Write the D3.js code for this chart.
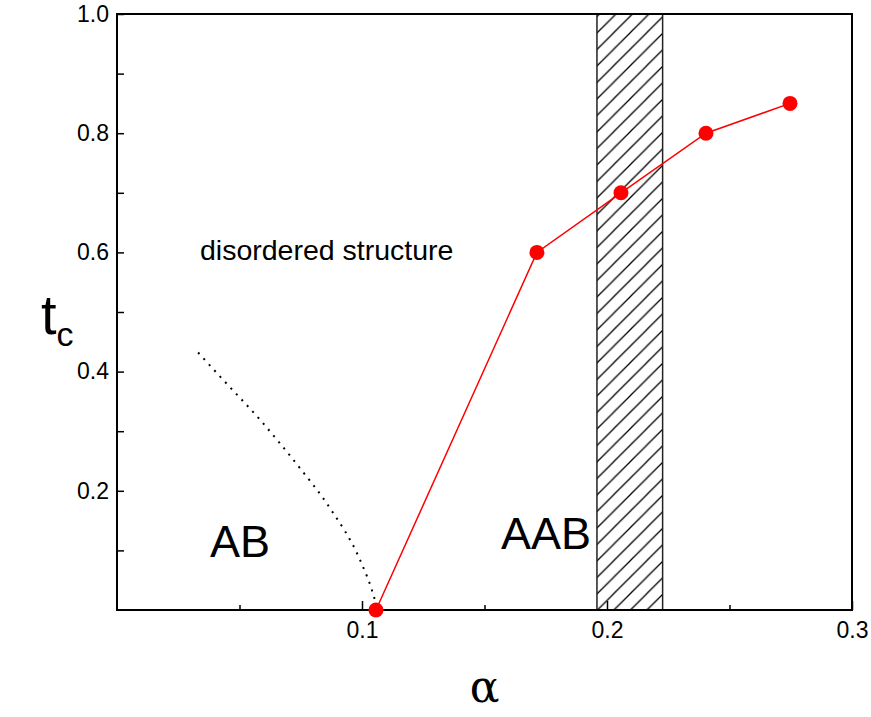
<!DOCTYPE html>
<html><head><meta charset="utf-8">
<script src="https://cdn.jsdelivr.net/npm/d3@7"></script>
<style>body{margin:0;background:#fff}svg{display:block}</style>
</head><body>
<svg id="c" width="871" height="717"></svg>
<script>
const alphaVals = [0.1057, 0.1714, 0.2057, 0.2404, 0.2747];
const tcVals = [0.0, 0.6, 0.7, 0.8, 0.85];
const boundaryAlpha = [0.0331, 0.0429, 0.0584, 0.0735, 0.0869, 0.0992, 0.1040, 0.1061];
const boundaryTc = [0.432, 0.388, 0.319, 0.244, 0.171, 0.084, 0.034, 0.005];
const bandRange = [0.1959, 0.2227];
const xTicks = [0.1, 0.2, 0.3];
const xMinor = [0.05, 0.15, 0.25];
const yTicks = [0.2, 0.4, 0.6, 0.8, 1.0];
const yMinor = [0.1, 0.3, 0.5, 0.7, 0.9];

const svg = d3.select("#c");
const L = 117, R = 852, T = 14, B = 610;
const x = d3.scaleLinear().domain([0, 0.3]).range([L, R]);
const y = d3.scaleLinear().domain([0, 1.0]).range([B, T]);
const font = "Arial, 'Liberation Sans', sans-serif";

const defs = svg.append("defs");
const s = 16.5;
const pat = defs.append("pattern").attr("id", "hatch").attr("patternUnits", "userSpaceOnUse")
  .attr("width", s).attr("height", s).attr("x", x(bandRange[0]));
pat.append("path").attr("d", `M0,${s} L${s},0 M${-s/2},${s/2} L${s/2},${-s/2} M${s/2},${s*1.5} L${s*1.5},${s/2}`)
  .attr("stroke", "#000").attr("stroke-width", 1.3);

svg.append("rect").attr("x", x(bandRange[0])).attr("y", y(1.0))
  .attr("width", x(bandRange[1]) - x(bandRange[0])).attr("height", y(0) - y(1.0))
  .attr("fill", "url(#hatch)").attr("stroke", "#222").attr("stroke-width", 1.5);

svg.append("rect").attr("x", L).attr("y", T).attr("width", R - L).attr("height", B - T)
  .attr("fill", "none").attr("stroke", "#000").attr("stroke-width", 2);

function styleTicks(g) {
  g.attr("font-size", null).attr("font-family", null);
  g.select(".domain").remove();
  g.selectAll("line").attr("stroke-width", 1.5).attr("stroke", "#000");
  g.selectAll("text").attr("font-family", font).attr("font-size", 23).attr("fill", "#000");
}

const gx = svg.append("g").attr("transform", `translate(0,${B})`)
  .call(d3.axisBottom(x).tickValues(xTicks).tickSizeInner(-9).tickSizeOuter(0).tickPadding(12).tickFormat(d3.format(".1f")));
styleTicks(gx);
const gxm = svg.append("g").attr("transform", `translate(0,${B})`)
  .call(d3.axisBottom(x).tickValues(xMinor).tickSizeInner(-5).tickSizeOuter(0).tickFormat(""));
styleTicks(gxm);

const gy = svg.append("g").attr("transform", `translate(${L},0)`)
  .call(d3.axisLeft(y).tickValues(yTicks).tickSizeInner(-7).tickSizeOuter(0).tickPadding(8).tickFormat(d3.format(".1f")));
styleTicks(gy);
const gym = svg.append("g").attr("transform", `translate(${L},0)`)
  .call(d3.axisLeft(y).tickValues(yMinor).tickSizeInner(-7).tickSizeOuter(0).tickFormat(""));
styleTicks(gym);

const bdata = boundaryAlpha.map((a, i) => [a, boundaryTc[i]]);
svg.append("path").datum(bdata)
  .attr("d", d3.line().x(d => x(d[0])).y(d => y(d[1])).curve(d3.curveMonotoneX))
  .attr("fill", "none").attr("stroke", "#000").attr("stroke-width", 2).attr("stroke-dasharray", "2,6");

const pdata = alphaVals.map((a, i) => [a, tcVals[i]]);
svg.append("path").datum(pdata)
  .attr("d", d3.line().x(d => x(d[0])).y(d => y(d[1])))
  .attr("fill", "none").attr("stroke", "#ff0000").attr("stroke-width", 1.5);
svg.selectAll("circle.pt").data(pdata).enter().append("circle")
  .attr("cx", d => x(d[0])).attr("cy", d => y(d[1])).attr("r", 7.5).attr("fill", "#ff0000");

svg.append("text").attr("x", 200).attr("y", 260).attr("font-family", font).attr("font-size", 28.5)
  .text("disordered structure");
svg.append("text").attr("x", 210).attr("y", 557).attr("font-family", font).attr("font-size", 45).text("AB");
svg.append("text").attr("x", 501).attr("y", 549).attr("font-family", font).attr("font-size", 45).text("AAB");

svg.append("text").attr("x", (L + R) / 2).attr("y", 702).attr("text-anchor", "middle")
  .attr("font-family", "'DejaVu Serif', 'Liberation Serif', serif").attr("font-size", 44).text("α");
const yt = svg.append("text").attr("x", 41).attr("y", 334).attr("font-family", font);
yt.append("tspan").attr("font-size", 56).text("t");
yt.append("tspan").attr("font-size", 34).attr("dy", 12).text("c");
</script>
</body></html>
